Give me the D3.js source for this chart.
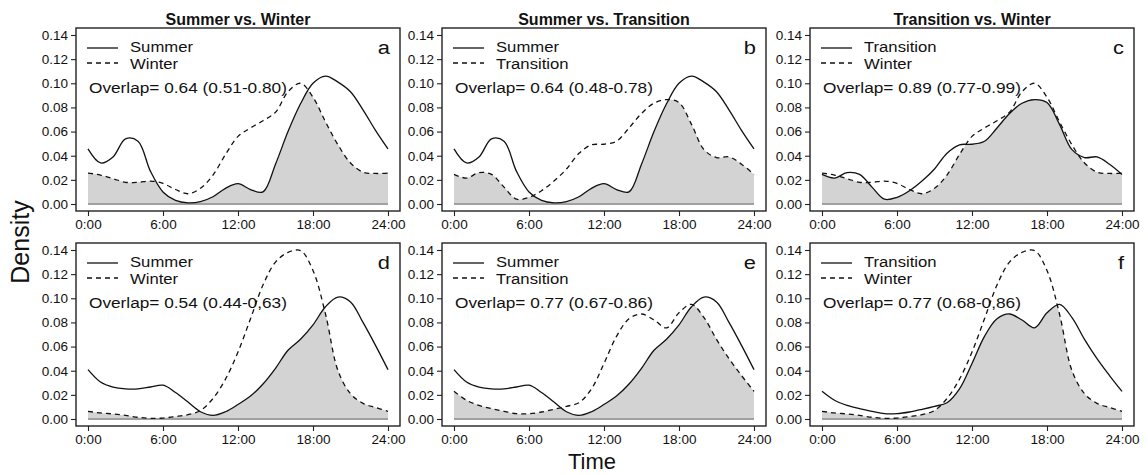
<!DOCTYPE html>
<html>
<head>
<meta charset="utf-8">
<script src="https://cdn.jsdelivr.net/npm/d3@7"></script>
<style>
  body { margin: 0; background: #fff; }
  text { font-family: "Liberation Sans", Arial, sans-serif; fill: #111; }
</style>
</head>
<body>
<svg width="1148" height="475"></svg>
<script>
// hourly density estimates
var hours = [0,1,2,3,4,5,6,7,8,9,10,11,12,13,14,15,16,17,18,19,20,21,22,23,24];

// top row
var summerTop = [0.0456,0.034,0.039,0.054,0.052,0.027,0.010,0.003,0.001,0.002,0.006,0.013,0.0168,0.012,0.010,0.033,0.060,0.083,0.100,0.106,0.101,0.093,0.078,0.061,0.0456];
var winterTop = [0.0256,0.024,0.021,0.018,0.018,0.019,0.017,0.012,0.0085,0.013,0.024,0.041,0.056,0.063,0.069,0.076,0.093,0.100,0.0885,0.068,0.049,0.034,0.0264,0.0253,0.0256];
var transTop  = [0.0245,0.0215,0.026,0.0245,0.014,0.004,0.0055,0.011,0.019,0.029,0.042,0.049,0.0495,0.052,0.063,0.075,0.0835,0.0865,0.084,0.066,0.045,0.0385,0.039,0.033,0.0245];

// bottom row
var summerBot = [0.0409,0.0307,0.0265,0.025,0.025,0.0265,0.028,0.022,0.014,0.006,0.003,0.006,0.012,0.019,0.029,0.042,0.057,0.066,0.078,0.093,0.101,0.097,0.080,0.061,0.0409];
var winterBot = [0.0064,0.005,0.0042,0.003,0.0014,0.0005,0.0008,0.002,0.0036,0.007,0.017,0.033,0.0555,0.083,0.111,0.130,0.138,0.1395,0.123,0.087,0.040,0.021,0.013,0.0095,0.0064];
var transBot  = [0.0229,0.0155,0.0113,0.0086,0.0064,0.0044,0.0044,0.0058,0.008,0.0105,0.0135,0.025,0.046,0.0685,0.083,0.087,0.082,0.0755,0.088,0.095,0.084,0.066,0.050,0.036,0.0229];

var titles = ['Summer vs. Winter', 'Summer vs. Transition', 'Transition vs. Winter'];
var letters = ['a', 'b', 'c', 'd', 'e', 'f'];
var solidNames = ['Summer', 'Summer', 'Transition', 'Summer', 'Summer', 'Transition'];
var dashNames = ['Winter', 'Transition', 'Winter', 'Winter', 'Transition', 'Winter'];
var overlapLabels = ['Overlap= 0.64 (0.51-0.80)', 'Overlap= 0.64 (0.48-0.78)', 'Overlap= 0.89 (0.77-0.99)',
                     'Overlap= 0.54 (0.44-0,63)', 'Overlap= 0.77 (0.67-0.86)', 'Overlap= 0.77 (0.68-0,86)'];
var yTicks = [0, 0.02, 0.04, 0.06, 0.08, 0.10, 0.12, 0.14];
var xTicks = [0, 6, 12, 18, 24];
var xTickLabels = ['0:00', '6:00', '12:00', '18:00', '24:00'];

var solidSeries = [summerTop, summerTop, transTop, summerBot, summerBot, transBot];
var dashSeries = [winterTop, transTop, winterTop, winterBot, transBot, winterBot];

var colLeft = [76, 442, 810];
var rowTop = [28, 243];
var boxW = 324;
var boxH = 183;

var svg = d3.select('svg');

// text squeezed vertically a little, like the reference
function label(g, x, y, str, size, anchor) {
  return g.append('text')
    .attr('transform', 'translate(' + x + ',' + y + ') scale(1.15,1)')
    .attr('dy', '0.35em')
    .style('text-anchor', anchor || 'start')
    .style('font-size', size + 'px')
    .text(str);
}

letters.forEach(function(letter, i) {
  var row = Math.floor(i / 3);
  var col = i % 3;
  var left = colLeft[col];
  var top = rowTop[row];

  var xScale = d3.scaleLinear()
                 .domain([0, 24])
                 .range([left + 12, left + boxW - 12]);

  var yScale = d3.scaleLinear()
                 .domain([0, 0.14])
                 .range([top + boxH - 7, top + 7]);

  var area = d3.area()
               .x((d, j) => xScale(hours[j]))
               .y0(yScale(0))
               .y1(d => yScale(d))
               .curve(d3.curveCatmullRom.alpha(0.5));

  var line = d3.line()
               .x((d, j) => xScale(hours[j]))
               .y(d => yScale(d))
               .curve(d3.curveCatmullRom.alpha(0.5));

  var g = svg.append('g');

  // overlap: area under solid curve clipped by area under dashed curve
  g.append('clipPath')
    .attr('id', 'clip-' + letter)
    .append('path')
    .attr('d', area(dashSeries[i]));

  g.append('path')
    .attr('d', area(solidSeries[i]))
    .attr('clip-path', 'url(#clip-' + letter + ')')
    .attr('fill', '#d3d3d3');

  g.append('line')
    .attr('x1', xScale(0))
    .attr('x2', xScale(24))
    .attr('y1', yScale(0))
    .attr('y2', yScale(0))
    .attr('stroke', '#a0a0a0')
    .attr('stroke-width', 2);

  g.append('path')
    .attr('d', line(solidSeries[i]))
    .attr('fill', 'none')
    .attr('stroke', '#111')
    .attr('stroke-width', 1.3);

  g.append('path')
    .attr('d', line(dashSeries[i]))
    .attr('fill', 'none')
    .attr('stroke', '#111')
    .attr('stroke-width', 1.3)
    .attr('stroke-dasharray', '5,4');

  // axes
  var yAxis = d3.axisLeft(yScale)
                .tickValues(yTicks)
                .tickFormat(d3.format('.2f'))
                .tickSize(5)
                .tickSizeOuter(0)
                .tickPadding(3);

  var xAxis = d3.axisBottom(xScale)
                .tickValues(xTicks)
                .tickFormat((d, j) => xTickLabels[j])
                .tickSize(5)
                .tickSizeOuter(0)
                .tickPadding(3);

  var ya = g.append('g')
    .attr('transform', 'translate(' + left + ',0)')
    .call(yAxis);
  var xa = g.append('g')
    .attr('transform', 'translate(0,' + (top + boxH) + ')')
    .call(xAxis);

  [ya, xa].forEach(function(a) {
    a.select('.domain').remove();
    a.selectAll('line').attr('stroke', '#222').attr('stroke-width', 1.1);
    a.selectAll('text')
      .style('font-family', '"Liberation Sans", Arial, sans-serif')
      .style('font-size', '13.5px')
      .attr('fill', '#111');
  });

  g.append('rect')
    .attr('x', left)
    .attr('y', top)
    .attr('width', boxW)
    .attr('height', boxH)
    .attr('fill', 'none')
    .attr('stroke', '#222')
    .attr('stroke-width', 1.4);

  // legend
  g.append('line')
    .attr('x1', left + 11).attr('x2', left + 42)
    .attr('y1', top + 20).attr('y2', top + 20)
    .attr('stroke', '#111').attr('stroke-width', 1.3);
  g.append('line')
    .attr('x1', left + 11).attr('x2', left + 42)
    .attr('y1', top + 35).attr('y2', top + 35)
    .attr('stroke', '#111').attr('stroke-width', 1.3)
    .attr('stroke-dasharray', '5,4');

  label(g, left + 54, top + 19, solidNames[i], 14.5);
  label(g, left + 54, top + 36, dashNames[i], 14.5);
  label(g, left + 13, top + 60, overlapLabels[i], 15);
  label(g, left + boxW - 10, top + 19, letter, 19, 'end');

  if (row === 0) {
    g.append('text')
      .attr('x', left + boxW / 2)
      .attr('y', 25)
      .style('text-anchor', 'middle')
      .style('font-size', '16px')
      .style('font-weight', 'bold')
      .text(titles[col]);
  }
});

svg.append('text')
  .attr('transform', 'rotate(-90)')
  .attr('x', -242)
  .attr('y', 20)
  .attr('dy', '0.35em')
  .style('text-anchor', 'middle')
  .style('font-size', '25px')
  .text('Density');

svg.append('text')
  .attr('x', 592)
  .attr('y', 461)
  .attr('dy', '0.35em')
  .style('text-anchor', 'middle')
  .style('font-size', '22px')
  .text('Time');
</script>
</body>
</html>
